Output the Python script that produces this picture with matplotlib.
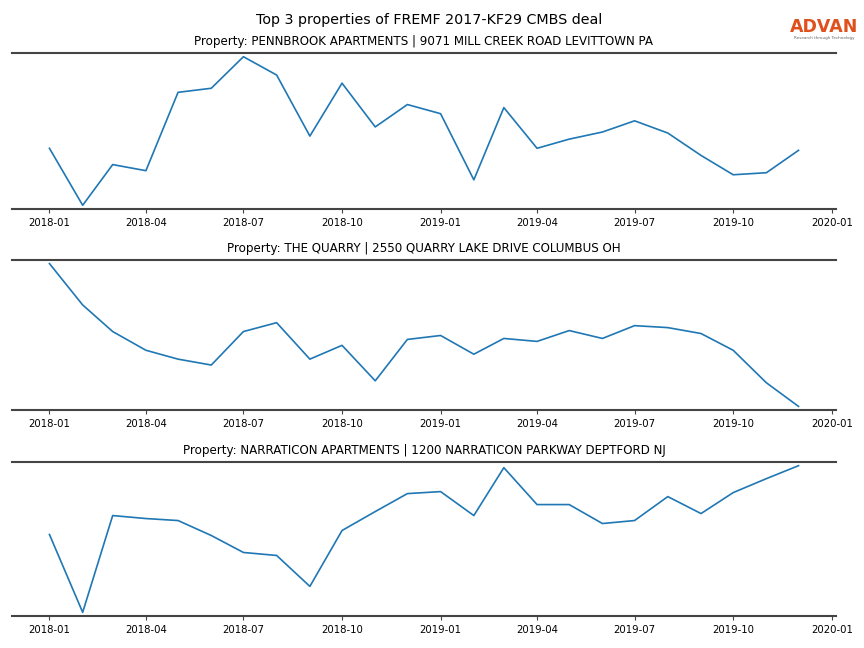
import matplotlib
matplotlib.use("Agg")
import matplotlib.pyplot as plt
import matplotlib.dates as mdates
import pandas as pd

months = pd.date_range("2018-01-01", "2019-12-01", freq="MS")

titles = [
    "Property: PENNBROOK APARTMENTS | 9071 MILL CREEK ROAD LEVITTOWN PA",
    "Property: THE QUARRY | 2550 QUARRY LAKE DRIVE COLUMBUS OH",
    "Property: NARRATICON APARTMENTS | 1200 NARRATICON PARKWAY DEPTFORD NJ",
]

pennbrook = [72, 16, 56, 50, 127, 131, 162, 144, 84, 136, 93, 115,
             106, 41, 112, 72, 81, 88, 99, 87, 65, 46, 48, 70]
quarry = [157, 115, 88, 69, 60, 54, 88, 97, 60, 74, 38, 80,
          84, 65, 81, 78, 89, 81, 94, 92, 86, 69, 36, 12]
narraticon = [85, 7, 104, 101, 99, 84, 67, 64, 33, 89, 108, 126,
              128, 104, 152, 115, 115, 96, 99, 123, 106, 127, 141, 154]

series = [pennbrook, quarry, narraticon]

fig = plt.figure(figsize=(8.64, 6.48), dpi=100)
W, H = 864, 648
boxes = [(53, 209), (260, 410), (462, 616)]
left, right = 12, 836

for (top, bot), vals, title in zip(boxes, series, titles):
    ax = fig.add_axes([left / W, 1 - bot / H, (right - left) / W, (bot - top) / H])
    ax.plot(months, vals, color="#1f77b4", linewidth=1.2)
    ax.margins(x=0.05, y=0.025)
    ax.set_title(title, fontsize=8.6, pad=6)
    for s in ["left", "right"]:
        ax.spines[s].set_visible(False)
    for s in ["top", "bottom"]:
        ax.spines[s].set_color("#444444")
        ax.spines[s].set_linewidth(1.5)
    ax.set_yticks([])
    ax.xaxis.set_major_locator(mdates.MonthLocator(bymonth=[1, 4, 7, 10]))
    ax.xaxis.set_major_formatter(mdates.DateFormatter("%Y-%m"))
    ax.tick_params(axis="x", labelsize=7.3, length=3, width=0.8, color="#444444")

fig.text(0.4965, 1 - 20 / H, "Top 3 properties of FREMF 2017-KF29 CMBS deal",
         ha="center", va="center", fontsize=10.3)
fig.text(824 / W, 1 - 27 / H, "ADVAN", ha="center", va="center",
         fontsize=12.5, color="#e0501c", fontweight="semibold")
fig.text(824 / W, 1 - 38 / H, "Research through Technology", ha="center",
         va="center", fontsize=3, color="#666666")

fig.savefig("out.png", dpi=100)
